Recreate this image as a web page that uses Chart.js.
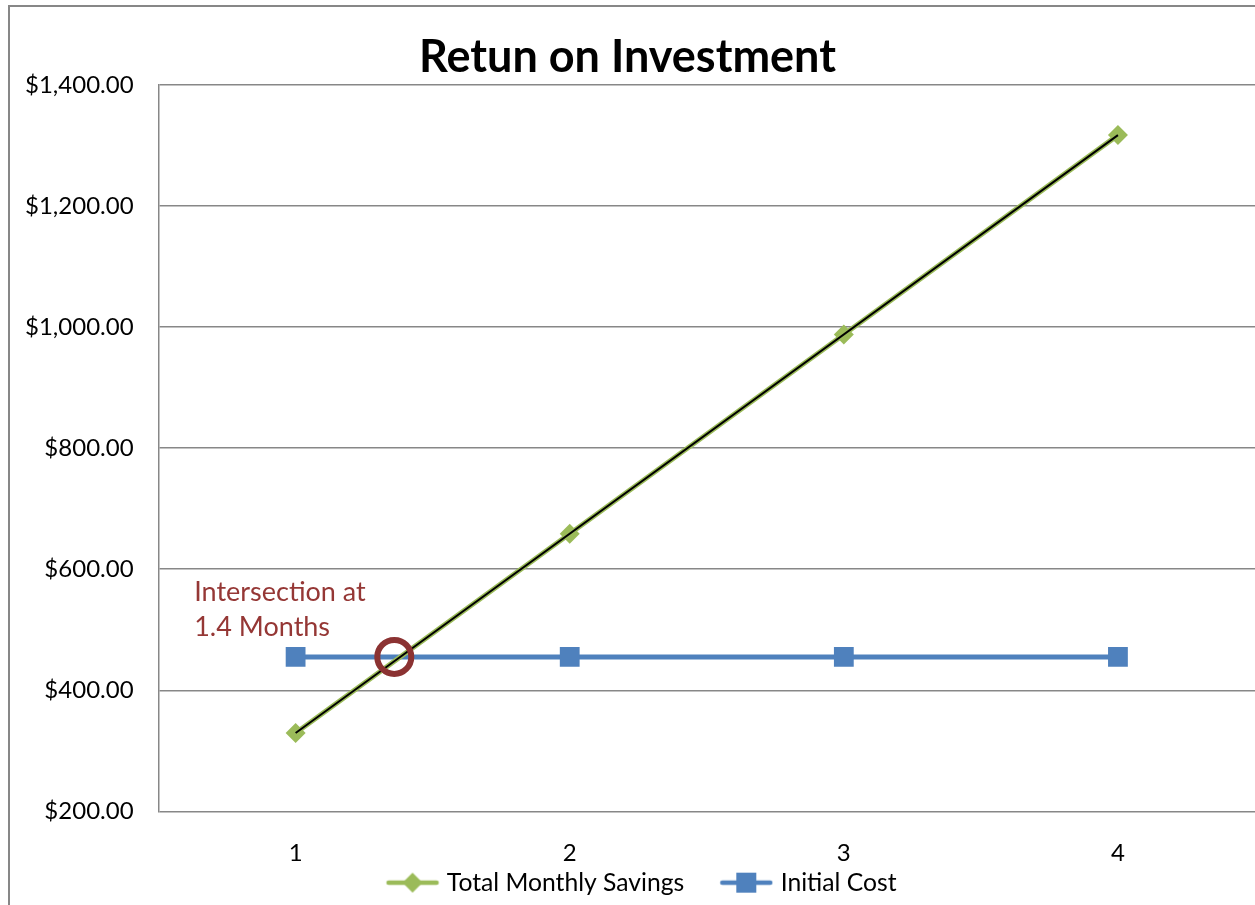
<!DOCTYPE html>
<html lang="en">
  <head>
    <meta charset="UTF-8" />
    <title>Retun on Investment</title>
    <script src="https://cdn.jsdelivr.net/npm/chart.js@4.4.0/dist/chart.umd.min.js"></script>
    <style>
      html, body { margin: 0; padding: 0; overflow: hidden; background: #fff; }
      #frame { position: absolute; left: 8px; top: 5px; width: 1300px; height: 960px; border: 2px solid #878787; }
      #wrap { position: absolute; left: 0; top: 0; width: 1255px; height: 905px; }
    </style>
  </head>
  <body>
    <div id="frame"></div>
    <div id="wrap"><canvas id="myChart"></canvas></div>

    <script>
    // values
    const months = [1, 2, 3, 4];
    const savings = [329.3, 658.6, 987.9, 1317.2];
    const initialCost = [455, 455, 455, 455];
    // linear trendline on the savings series (end points)
    const trendMonths = [1, 4];
    const trendValues = [329.3, 1317.2];
    // break-even marker
    const crossMonth = [1.36];
    const crossValue = [455];
    const noteLines = ['Intersection at', '1.4 Months'];
    const noteAt = { month: 0.63, value: 548 };

    const green = '#9BBB59';
    const blue = '#4F81BD';
    const red = '#953735';
    const grey = '#878787';

    Chart.defaults.font.family = 'Lato';
    Chart.defaults.color = '#000';

    // legend symbol: a short line with the marker in the middle,
    // drawn in the right part of a wider canvas so it sits close to its text
    function legendIcon(color, shape) {
      const c = document.createElement('canvas');
      c.width = 86; c.height = 22;
      const g = c.getContext('2d');
      const x0 = 32;
      g.strokeStyle = color;
      g.lineWidth = 4.5;
      g.lineCap = 'round';
      g.beginPath(); g.moveTo(x0 + 3, 11); g.lineTo(x0 + 51, 11); g.stroke();
      g.fillStyle = color;
      if (shape === 'diamond') {
        g.beginPath(); g.moveTo(x0 + 27, 1); g.lineTo(x0 + 37, 11); g.lineTo(x0 + 27, 21); g.lineTo(x0 + 17, 11); g.closePath(); g.fill();
      } else {
        g.fillRect(x0 + 17, 1, 20, 20);
      }
      return c;
    }

    const pairs = (xs, ys) => xs.map((x, i) => ({ x: x, y: ys[i] }));

    const notePlugin = {
      id: 'note',
      afterDatasetsDraw(chart) {
        const ctx = chart.ctx;
        const x = chart.scales.x.getPixelForValue(noteAt.month);
        const y = chart.scales.y.getPixelForValue(noteAt.value);
        ctx.save();
        ctx.font = '27px Lato';
        ctx.fillStyle = red;
        ctx.textBaseline = 'alphabetic';
        noteLines.forEach((t, i) => ctx.fillText(t, x, y + i * 35));
        ctx.restore();
      }
    };

    const ctx = document.getElementById('myChart').getContext('2d');
    const myChart = new Chart(ctx, {
      type: 'line',
      data: {
        datasets: [
          {
            label: 'crossing',
            data: pairs(crossMonth, crossValue),
            showLine: false,
            pointStyle: 'circle',
            pointRadius: 17,
            pointHoverRadius: 17,
            pointBorderWidth: 6,
            pointBorderColor: '#8B3232',
            pointBackgroundColor: 'rgba(0,0,0,0)'
          },
          {
            label: 'trend',
            data: pairs(trendMonths, trendValues),
            borderColor: '#000',
            borderWidth: 2,
            pointRadius: 0,
            fill: false
          },
          {
            label: 'Total Monthly Savings',
            data: pairs(months, savings),
            borderColor: green,
            backgroundColor: green,
            borderWidth: 5,
            pointStyle: 'rectRot',
            pointRadius: 10,
            pointBorderWidth: 0,
            fill: false
          },
          {
            label: 'Initial Cost',
            data: pairs(months, initialCost),
            borderColor: blue,
            backgroundColor: blue,
            borderWidth: 5,
            pointStyle: 'rect',
            pointRadius: 14,
            pointBorderWidth: 0,
            fill: false
          }
        ]
      },
      options: {
        responsive: true,
        maintainAspectRatio: false,
        animation: false,
        layout: { autoPadding: false, padding: 0 },
        plugins: {
          title: {
            display: true,
            text: 'Retun on Investment',
            font: { size: 45, weight: 'bold' },
            color: '#000',
            padding: { top: 30, bottom: 1 }
          },
          legend: {
            position: 'bottom',
            labels: {
              font: { size: 24.7 },
              usePointStyle: true,
              pointStyleWidth: 76,
              padding: 8,
              generateLabels: () => [
                { text: 'Total Monthly Savings', pointStyle: legendIcon(green, 'diamond'), fillStyle: green, strokeStyle: green, lineWidth: 0, datasetIndex: 2 },
                { text: 'Initial Cost', pointStyle: legendIcon(blue, 'square'), fillStyle: blue, strokeStyle: blue, lineWidth: 0, datasetIndex: 3 }
              ]
            }
          },
          tooltip: { enabled: false }
        },
        scales: {
          x: {
            type: 'linear',
            min: 0.5,
            max: 4.5,
            afterBuildTicks: axis => { axis.ticks = months.map(v => ({ value: v })); },
            afterFit: s => { s.height = 51; s.paddingLeft = 0; s.paddingRight = 0; },
            grid: { display: false, drawTicks: false },
            border: { display: false },
            ticks: { font: { size: 24 }, padding: 28, color: '#000' }
          },
          y: {
            min: 200,
            max: 1400,
            ticks: {
              stepSize: 200,
              font: { size: 24 },
              padding: 25,
              color: '#000',
              callback: v => '$' + v.toLocaleString('en-US', { minimumFractionDigits: 2, maximumFractionDigits: 2 })
            },
            grid: { color: grey, lineWidth: 1.5, drawTicks: false },
            border: { color: grey, width: 1.5 }
          }
        }
      },
      plugins: [notePlugin]
    });
    </script>
  </body>
</html>
